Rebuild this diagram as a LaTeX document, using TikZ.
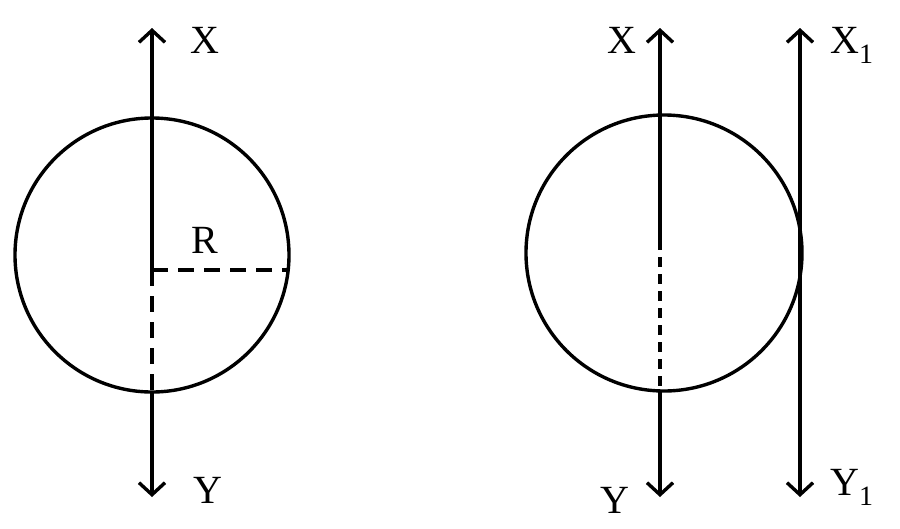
\documentclass[tikz,border=0pt]{standalone}
\usepackage{fontspec}
\setmainfont{Liberation Serif}
\usetikzlibrary{positioning, calc, arrows.meta}
\begin{document}
\begin{tikzpicture}[x=1pt, y=-1pt, line width=3.4pt, >={Straight Barb[length=12pt,width=26pt]},
	lbl/.style={font=\fontsize{40}{44}\selectfont, inner sep=0pt}]
	\useasboundingbox (0,0) rectangle (900,528);
	% left picture
	\coordinate (lc) at (152,255);
	\coordinate (lmid) at (152,270);
	\coordinate (ltop) at (152,28);
	\coordinate (lbot) at (152,497);
	\coordinate (lin) at (152,392);
	\coordinate (lr) at (289,270);
	\draw (lc) circle (137);
	\draw[->] (lmid) -- (ltop);
	\draw[dash pattern=on 16pt off 10pt] (lmid) -- (lin);
	\draw[->] (lin) -- (lbot);
	\draw[dash pattern=on 16pt off 10pt] (lmid) -- (lr);
	\node[lbl] (lx) at (205,40) {X};
	\node[lbl] (ly) at (208,490) {Y};
	\node[lbl] (rad) at (205,240) {R};
	% right picture
	\coordinate (rc) at (664,253);
	\coordinate (rtop) at (660,28);
	\coordinate (rbot) at (660,497);
	\coordinate (rmid) at (660,240);
	\coordinate (rin) at (660,391);
	\coordinate (ttop) at (800,28);
	\coordinate (tbot) at (800,497);
	\draw (rc) circle (138);
	\draw[->] (rmid) -- (rtop);
	\draw[dash pattern=on 10pt off 7pt] (rmid) -- (rin);
	\draw[->] (rin) -- (rbot);
	\draw[<->] (tbot) -- (ttop);
	\node[lbl] (rx) at (622,40) {X};
	\node[lbl] (ry) at (615,500) {Y};
	\node[lbl] (x1) at (852,45) {X\textsubscript{1}};
	\node[lbl] (y1) at (852,487) {Y\textsubscript{1}};
\end{tikzpicture}
\end{document}
